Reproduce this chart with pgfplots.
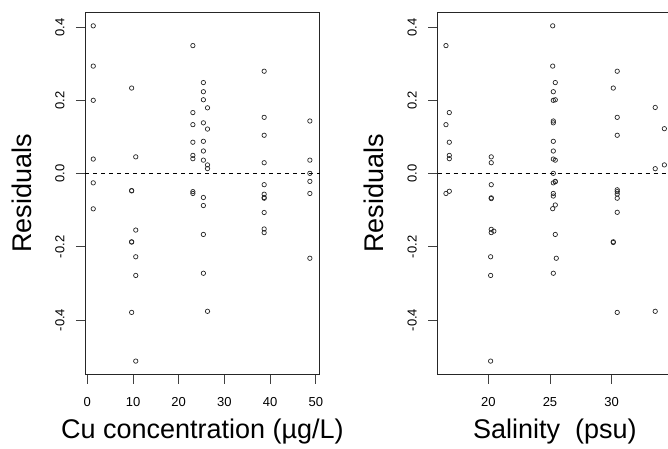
\documentclass[border=0pt]{standalone}
\usepackage{pgfplots}
\pgfplotsset{compat=1.18}
\usepackage{fontspec}
\setmainfont{Liberation Sans}
\tikzset{xtl/.style={font=\fontsize{13}{13}\selectfont, anchor=center, inner sep=0pt, yshift=-27.7pt}}
\begin{document}
\begin{tikzpicture}
\path[use as bounding box] (0pt,0pt) rectangle (668pt,448pt);
\clip (0pt,0pt) rectangle (668pt,448pt);
\pgfplotsset{
 pts/.style={only marks, mark=o, mark size=2.2pt, black!85, mark options={line width=0.7pt, solid}},
 zero/.style={sharp plot, no marks, black, line width=0.7pt, dash pattern=on 4pt off 4pt},
 resid/.style={
  scale only axis, width=234.3pt, height=361.3pt,
  ymin=-0.5473, ymax=0.4399, clip=false,
  tick pos=left, tick align=outside, major tick length=9.5pt,
  ytick={-0.4,-0.2,0,0.2,0.4}, yticklabels={-0.4,-0.2,0.0,0.2,0.4},
  xticklabels={},
  axis line style={line width=0.8pt, black!85},
  tick style={line width=0.8pt, black!75},
  ticklabel style={font=\fontsize{13}{13}\selectfont, inner sep=0pt},
  yticklabel style={xshift=-16pt, rotate=90, anchor=center},
  label style={font=\fontsize{27}{27}\selectfont, inner sep=0pt},
  ylabel={Residuals},
  ylabel style={at={(axis description cs:-0.2714,0.5)}, anchor=center},
  xlabel style={at={(axis description cs:0.5,-0.178)}, anchor=base},
 }
}
\begin{axis}[resid, at={(85.3pt,74pt)}, anchor=south west,
  xmin=-0.44, xmax=50.83,
  xtick={0,10,20,30,40,50},
  xlabel={Cu concentration (µg/L)}]
\addplot[zero] coordinates {(-0.44,0) (50.83,0)};
\addplot[pts] table {
x y
1.3 0.404
1.3 0.294
1.3 0.2005
1.3 0.040
1.3 -0.025
1.3 -0.096
9.7 0.234
9.7 -0.046
9.7 -0.047
9.7 -0.186
9.7 -0.187
9.7 -0.379
10.6 0.046
10.6 -0.154
10.6 -0.227
10.6 -0.278
10.6 -0.512
23.1 0.350
23.1 0.167
23.1 0.134
23.1 0.086
23.1 0.050
23.1 0.041
23.1 -0.049
23.1 -0.054
25.4 0.249
25.4 0.224
25.4 0.202
25.4 0.139
25.4 0.0885
25.4 0.062
25.4 0.037
25.4 -0.065
25.4 -0.087
25.4 -0.166
25.4 -0.272
26.3 0.180
26.3 0.122
26.3 0.024
26.3 0.014
26.3 -0.376
38.7 0.280
38.7 0.154
38.7 0.105
38.7 0.030
38.7 -0.030
38.7 -0.056
38.7 -0.065
38.7 -0.067
38.7 -0.106
38.7 -0.151
38.7 -0.161
48.7 0.144
48.7 0.037
48.7 0.001
48.7 -0.021
48.7 -0.054
48.7 -0.231
};
\node[xtl] at (axis cs:0,-0.5473) {0};
\node[xtl] at (axis cs:10,-0.5473) {10};
\node[xtl] at (axis cs:20,-0.5473) {20};
\node[xtl] at (axis cs:30,-0.5473) {30};
\node[xtl] at (axis cs:40,-0.5473) {40};
\node[xtl] at (axis cs:50,-0.5473) {50};
\end{axis}
\begin{axis}[resid, at={(437.7pt,74pt)}, anchor=south west,
  xmin=15.9, xmax=34.89,
  xtick={20,25,30},
  xlabel={Salinity\ \ (psu)}]
\addplot[zero] coordinates {(15.9,0) (34.89,0)};
\addplot[pts] table {
x y
16.57 0.350
16.57 0.134
16.57 -0.054
16.84 0.167
16.84 0.086
16.84 0.050
16.84 0.041
16.84 -0.048
20.24 0.046
20.24 0.030
20.24 -0.030
20.24 -0.066
20.24 -0.068
20.24 -0.152
20.45 -0.157
20.24 -0.161
20.19 -0.227
20.19 -0.278
20.19 -0.512
25.22 0.404
25.22 0.294
25.43 0.249
25.43 0.202
25.43 -0.022
25.43 -0.0855
25.43 -0.166
25.27 0.224
25.27 0.2005
25.27 0.144
25.27 0.139
25.27 0.0885
25.27 0.062
25.27 0.040
25.27 0.001
25.27 -0.025
25.27 -0.054
25.27 -0.061
25.27 -0.272
25.43 0.037
25.43 -0.021
25.22 -0.0956
25.51 -0.231
30.13 0.234
30.13 -0.186
30.13 -0.188
30.45 0.280
30.45 0.154
30.45 0.105
30.45 -0.044
30.45 -0.049
30.45 -0.0555
30.45 -0.067
30.45 -0.1055
30.45 -0.379
33.53 0.181
33.53 0.0137
33.53 -0.376
34.27 0.123
34.27 0.024
};
\node[xtl] at (axis cs:20,-0.5473) {20};
\node[xtl] at (axis cs:25,-0.5473) {25};
\node[xtl] at (axis cs:30,-0.5473) {30};
\end{axis}
\end{tikzpicture}
\end{document}
